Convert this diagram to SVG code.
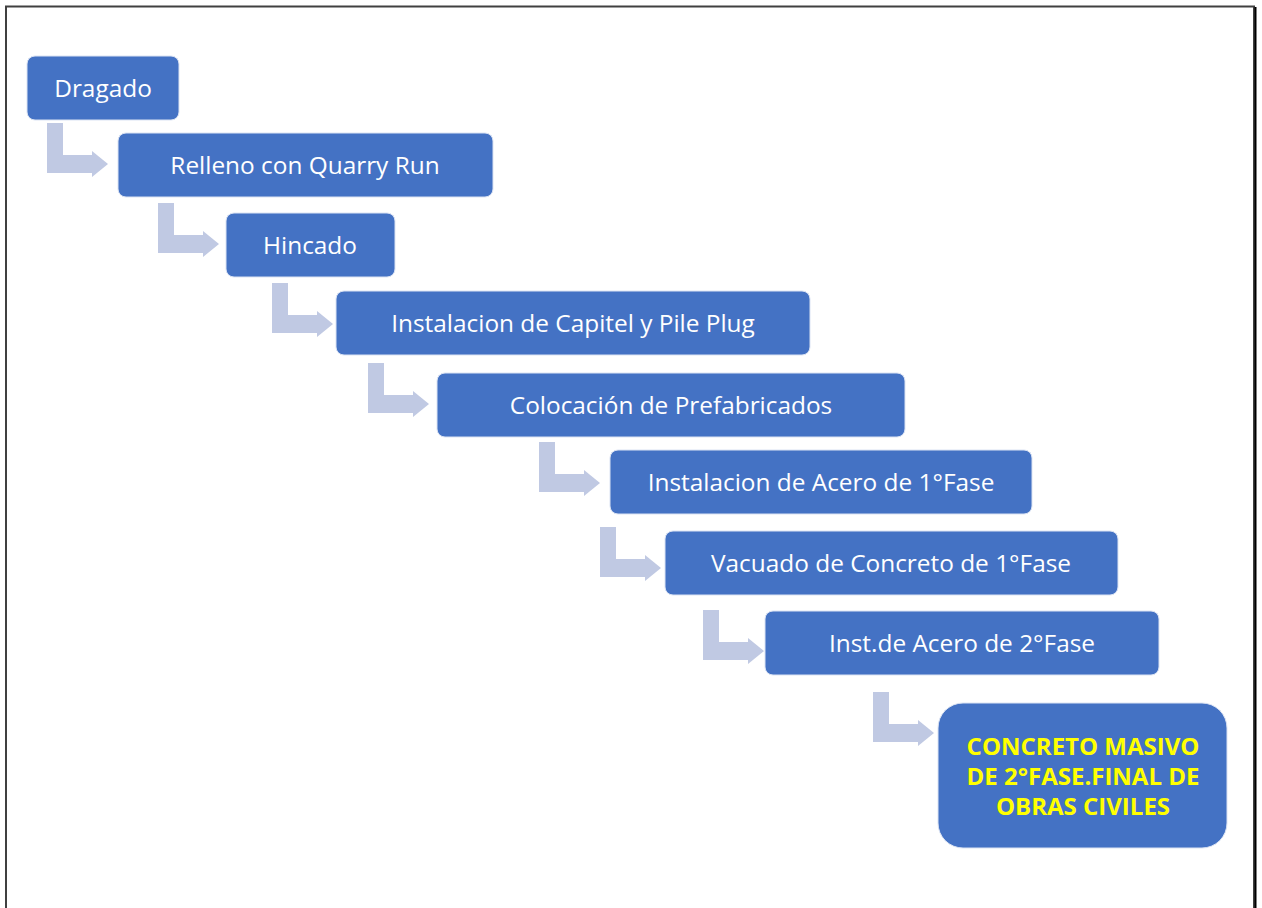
<svg xmlns="http://www.w3.org/2000/svg" width="1262" height="908" viewBox="0 0 1262 908">
<defs>
<style>
.box{fill:#4472C4;stroke:#dbe3f3;stroke-width:1}
.t{font-family:"Open Sans","Noto Sans","Liberation Sans",sans-serif;font-size:24.4px;fill:#ffffff;text-anchor:middle;dominant-baseline:central}
.ty{font-family:"Open Sans","Noto Sans","Liberation Sans",sans-serif;font-size:24px;font-weight:bold;fill:#FFFF00;text-anchor:middle;dominant-baseline:central}
.arr{fill:#C0C9E3}
</style>
<path id="bent" class="arr" d="M0,0 H16 V32 H45 V28 L61,41 L45,54 V50 H0 Z"/>
</defs>
<rect x="0" y="0" width="1262" height="908" fill="#ffffff"/>
<path d="M6,920 V6.5 H1254 V920" fill="none" stroke="#404040" stroke-width="2"/>
<line x1="1255.5" y1="7" x2="1255.5" y2="908" stroke="#000" stroke-width="2"/>
<g id="connectors">
<use href="#bent" x="47" y="123"/>
<use href="#bent" x="158" y="203"/>
<use href="#bent" x="272" y="283"/>
<use href="#bent" x="368" y="363"/>
<use href="#bent" x="539" y="442"/>
<use href="#bent" x="600" y="527"/>
<use href="#bent" x="703" y="610"/>
<use href="#bent" x="873" y="692"/>
</g>
<g id="n1"><rect class="box" x="27" y="56" width="152" height="64" rx="8"/><text class="t" x="103" y="87">Dragado</text></g>
<g id="n2"><rect class="box" x="118" y="133" width="375" height="64" rx="8"/><text class="t" x="305" y="164">Relleno con Quarry Run</text></g>
<g id="n3"><rect class="box" x="226" y="213" width="169" height="64" rx="8"/><text class="t" x="310" y="244">Hincado</text></g>
<g id="n4"><rect class="box" x="336" y="291" width="474" height="64" rx="8"/><text class="t" x="573" y="322">Instalacion de Capitel y Pile Plug</text></g>
<g id="n5"><rect class="box" x="437" y="373" width="468" height="64" rx="8"/><text class="t" x="671" y="404">Colocación de Prefabricados</text></g>
<g id="n6"><rect class="box" x="610" y="450" width="422" height="64" rx="8"/><text class="t" x="821" y="481">Instalacion de Acero de 1°Fase</text></g>
<g id="n7"><rect class="box" x="665" y="531" width="453" height="64" rx="8"/><text class="t" x="891" y="562">Vacuado de Concreto de 1°Fase</text></g>
<g id="n8"><rect class="box" x="765" y="611" width="394" height="64" rx="8"/><text class="t" x="962" y="642">Inst.de Acero de 2°Fase</text></g>
<g id="n9"><rect class="box" x="938" y="703" width="289" height="145" rx="25"/>
<text class="ty" x="1083" y="745">CONCRETO MASIVO</text>
<text class="ty" x="1083" y="775">DE 2°FASE.FINAL DE</text>
<text class="ty" x="1083" y="805">OBRAS CIVILES</text></g>
</svg>
